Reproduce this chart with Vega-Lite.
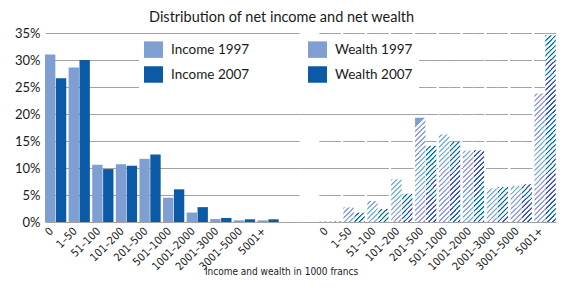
{
  "$schema": "https://vega.github.io/schema/vega-lite/v6.json",
  "padding": {"left": 5, "top": 9, "right": 0, "bottom": 0},
  "bounds": "flush",
  "background": "white",
  "title": {"text": "Distribution of net income and net wealth", "font": "Lato", "fontSize": 14.5, "fontWeight": "normal", "color": "#1a1a1a", "anchor": "start", "frame": "group", "offset": 2, "dx": 104},
  "datasets": {
    "income": [
      {"cat": "0", "year": "1997", "series": "Income 1997", "value": 31.0},
      {"cat": "1–50", "year": "1997", "series": "Income 1997", "value": 28.6},
      {"cat": "51–100", "year": "1997", "series": "Income 1997", "value": 10.6},
      {"cat": "101–200", "year": "1997", "series": "Income 1997", "value": 10.7},
      {"cat": "201–500", "year": "1997", "series": "Income 1997", "value": 11.7},
      {"cat": "501–1000", "year": "1997", "series": "Income 1997", "value": 4.5},
      {"cat": "1001–2000", "year": "1997", "series": "Income 1997", "value": 1.75},
      {"cat": "2001–3000", "year": "1997", "series": "Income 1997", "value": 0.55},
      {"cat": "3001–5000", "year": "1997", "series": "Income 1997", "value": 0.3},
      {"cat": "5001+", "year": "1997", "series": "Income 1997", "value": 0.3},
      {"cat": "0", "year": "2007", "series": "Income 2007", "value": 26.6},
      {"cat": "1–50", "year": "2007", "series": "Income 2007", "value": 30.0},
      {"cat": "51–100", "year": "2007", "series": "Income 2007", "value": 9.8},
      {"cat": "101–200", "year": "2007", "series": "Income 2007", "value": 10.4},
      {"cat": "201–500", "year": "2007", "series": "Income 2007", "value": 12.5},
      {"cat": "501–1000", "year": "2007", "series": "Income 2007", "value": 6.05},
      {"cat": "1001–2000", "year": "2007", "series": "Income 2007", "value": 2.75},
      {"cat": "2001–3000", "year": "2007", "series": "Income 2007", "value": 0.75},
      {"cat": "3001–5000", "year": "2007", "series": "Income 2007", "value": 0.5},
      {"cat": "5001+", "year": "2007", "series": "Income 2007", "value": 0.5}
    ],
    "wealth": [
      {"cat": "0", "year": "1997", "series": "Wealth 1997", "value": 0.1},
      {"cat": "1–50", "year": "1997", "series": "Wealth 1997", "value": 2.7},
      {"cat": "51–100", "year": "1997", "series": "Wealth 1997", "value": 3.9},
      {"cat": "101–200", "year": "1997", "series": "Wealth 1997", "value": 7.9},
      {"cat": "201–500", "year": "1997", "series": "Wealth 1997", "value": 19.3},
      {"cat": "501–1000", "year": "1997", "series": "Wealth 1997", "value": 16.2},
      {"cat": "1001–2000", "year": "1997", "series": "Wealth 1997", "value": 13.2},
      {"cat": "2001–3000", "year": "1997", "series": "Wealth 1997", "value": 6.2},
      {"cat": "3001–5000", "year": "1997", "series": "Wealth 1997", "value": 6.7},
      {"cat": "5001+", "year": "1997", "series": "Wealth 1997", "value": 23.8},
      {"cat": "0", "year": "2007", "series": "Wealth 2007", "value": 0.1},
      {"cat": "1–50", "year": "2007", "series": "Wealth 2007", "value": 1.7},
      {"cat": "51–100", "year": "2007", "series": "Wealth 2007", "value": 2.4},
      {"cat": "101–200", "year": "2007", "series": "Wealth 2007", "value": 5.25},
      {"cat": "201–500", "year": "2007", "series": "Wealth 2007", "value": 14.1},
      {"cat": "501–1000", "year": "2007", "series": "Wealth 2007", "value": 14.9},
      {"cat": "1001–2000", "year": "2007", "series": "Wealth 2007", "value": 13.3},
      {"cat": "2001–3000", "year": "2007", "series": "Wealth 2007", "value": 6.5},
      {"cat": "3001–5000", "year": "2007", "series": "Wealth 2007", "value": 7.0},
      {"cat": "5001+", "year": "2007", "series": "Wealth 2007", "value": 34.6}
    ]
  },
  "spacing": 0,
  "hconcat": [
    {
      "width": 254,
      "height": 189,
      "data": {"name": "income"},
      "mark": {"type": "bar"},
      "encoding": {
        "x": {
          "field": "cat", "type": "nominal",
          "sort": ["0", "1–50", "51–100", "101–200", "201–500", "501–1000", "1001–2000", "2001–3000", "3001–5000", "5001+"],
          "scale": {"paddingInner": 0.1, "paddingOuter": 0.43, "align": 0},
          "axis": {"title": "Income and wealth in 1000 francs", "titleX": 236, "titleY": 49, "titleBaseline": "middle", "titleAlign": "center"}
        },
        "xOffset": {"field": "year", "type": "nominal", "scale": {"paddingInner": 0.05}},
        "y": {
          "field": "value", "type": "quantitative",
          "scale": {"domain": [0, 35]},
          "axis": {"values": [0, 5, 10, 15, 20, 25, 30, 35], "labelExpr": "datum.value + '%'", "title": null, "minExtent": 40, "maxExtent": 40, "labelPadding": 5, "ticks": false, "domain": false, "grid": true, "labelFont": "Lato", "labelFontSize": 13, "labelColor": "#1a1a1a"}
        },
        "color": {
          "field": "series", "type": "nominal",
          "scale": {"domain": ["Income 1997", "Income 2007", "Wealth 1997", "Wealth 2007"], "range": ["#7f9fd2", "#0a5aa5", "#7f9fd2", "#0a5aa5"]},
          "legend": {
            "title": null, "orient": "none", "legendX": 94, "legendY": 2, "columns": 2, "columnPadding": 58, "rowPadding": 8,
            "symbolType": "M-1.15,-1H1.15V1H-1.15Z", "symbolSize": 272, "symbolStrokeWidth": 0, "symbolOpacity": 1,
            "labelFont": "Lato", "labelFontSize": 13.5, "labelColor": "#1a1a1a", "labelOffset": 9, "padding": 6, "fillColor": "white",
            "encode": {"symbols": {"shape": {"value": {"expr": "indexof(datum.label, 'Wealth') === 0 ? 'M-1.15,-1H1.15V1H-1.15Z M-0.9,-1L-1.15,-0.75L-1.15,-0.57L-0.72,-1Z M-0.3,-1L-1.15,-0.15L-1.15,0.03L-0.12,-1Z M0.3,-1L-1.15,0.45L-1.15,0.63L0.48,-1Z M0.9,-1L-1.1,1L-0.92,1L1.08,-1Z M1.15,-0.65L-0.5,1L-0.32,1L1.15,-0.47Z M1.15,-0.05L0.1,1L0.28,1L1.15,0.13Z M1.15,0.55L0.7,1L0.88,1L1.15,0.73Z' : 'M-1.15,-1H1.15V1H-1.15Z'"}}}}
          }
        }
      }
    },
    {
      "width": 257,
      "height": 189,
      "data": {"name": "wealth"},
      "layer": [
        {
          "mark": {"type": "bar"},
          "encoding": {
            "x": {
              "field": "cat", "type": "nominal",
              "sort": ["0", "1–50", "51–100", "101–200", "201–500", "501–1000", "1001–2000", "2001–3000", "3001–5000", "5001+"],
              "scale": {"paddingInner": 0.1, "paddingOuter": 0.43, "align": 1},
              "axis": {"title": null}
            },
            "xOffset": {"field": "year", "type": "nominal", "scale": {"paddingInner": 0.05}},
            "y": {
              "field": "value", "type": "quantitative",
              "scale": {"domain": [0, 35]},
              "axis": {"values": [0, 5, 10, 15, 20, 25, 30, 35], "labels": false, "title": null, "minExtent": 0, "maxExtent": 0, "ticks": false, "domain": false, "grid": true}
            },
            "color": {"field": "series", "type": "nominal"}
          }
        },
        {
          "mark": {"type": "text", "clip": true, "font": "DejaVu Sans Mono", "fontSize": 12, "lineHeight": 3.5, "angle": -45, "align": "center", "baseline": "top", "color": "white", "opacity": 0.8,
            "text": [
"────────────────────────────────────────────────────────────────────────────────────","────────────────────────────────────────────────────────────────────────────────────","────────────────────────────────────────────────────────────────────────────────────","────────────────────────────────────────────────────────────────────────────────────","────────────────────────────────────────────────────────────────────────────────────",
"────────────────────────────────────────────────────────────────────────────────────","────────────────────────────────────────────────────────────────────────────────────","────────────────────────────────────────────────────────────────────────────────────","────────────────────────────────────────────────────────────────────────────────────","────────────────────────────────────────────────────────────────────────────────────",
"────────────────────────────────────────────────────────────────────────────────────","────────────────────────────────────────────────────────────────────────────────────","────────────────────────────────────────────────────────────────────────────────────","────────────────────────────────────────────────────────────────────────────────────","────────────────────────────────────────────────────────────────────────────────────",
"────────────────────────────────────────────────────────────────────────────────────","────────────────────────────────────────────────────────────────────────────────────","────────────────────────────────────────────────────────────────────────────────────","────────────────────────────────────────────────────────────────────────────────────","────────────────────────────────────────────────────────────────────────────────────",
"────────────────────────────────────────────────────────────────────────────────────","────────────────────────────────────────────────────────────────────────────────────","────────────────────────────────────────────────────────────────────────────────────","────────────────────────────────────────────────────────────────────────────────────","────────────────────────────────────────────────────────────────────────────────────",
"────────────────────────────────────────────────────────────────────────────────────","────────────────────────────────────────────────────────────────────────────────────","────────────────────────────────────────────────────────────────────────────────────","────────────────────────────────────────────────────────────────────────────────────","────────────────────────────────────────────────────────────────────────────────────",
"────────────────────────────────────────────────────────────────────────────────────","────────────────────────────────────────────────────────────────────────────────────","────────────────────────────────────────────────────────────────────────────────────","────────────────────────────────────────────────────────────────────────────────────","────────────────────────────────────────────────────────────────────────────────────",
"────────────────────────────────────────────────────────────────────────────────────","────────────────────────────────────────────────────────────────────────────────────","────────────────────────────────────────────────────────────────────────────────────","────────────────────────────────────────────────────────────────────────────────────","────────────────────────────────────────────────────────────────────────────────────",
"────────────────────────────────────────────────────────────────────────────────────","────────────────────────────────────────────────────────────────────────────────────","────────────────────────────────────────────────────────────────────────────────────","────────────────────────────────────────────────────────────────────────────────────","────────────────────────────────────────────────────────────────────────────────────",
"────────────────────────────────────────────────────────────────────────────────────","────────────────────────────────────────────────────────────────────────────────────","────────────────────────────────────────────────────────────────────────────────────","────────────────────────────────────────────────────────────────────────────────────","────────────────────────────────────────────────────────────────────────────────────",
"────────────────────────────────────────────────────────────────────────────────────","────────────────────────────────────────────────────────────────────────────────────","────────────────────────────────────────────────────────────────────────────────────","────────────────────────────────────────────────────────────────────────────────────","────────────────────────────────────────────────────────────────────────────────────"
            ]
          },
          "encoding": {
            "x": {"datum": "0", "type": "nominal"},
            "y": {"datum": 2.8, "type": "quantitative"}
          }
        },
        {"transform": [{"filter": "datum.value < 5"}], "mark": {"type": "bar", "filled": false, "stroke": "#a3a3a3", "strokeWidth": 1, "yOffset": 0.5, "y2Offset": 0.5}, "encoding": {"x": {"field": "cat", "type": "nominal", "sort": ["0", "1–50", "51–100", "101–200", "201–500", "501–1000", "1001–2000", "2001–3000", "3001–5000", "5001+"]}, "xOffset": {"field": "year", "type": "nominal"}, "y": {"datum": 5, "type": "quantitative", "axis": {"title": null}}, "y2": {"datum": 5}}},
        {"transform": [{"filter": "datum.value < 10"}], "mark": {"type": "bar", "filled": false, "stroke": "#a3a3a3", "strokeWidth": 1, "yOffset": 0.5, "y2Offset": 0.5}, "encoding": {"x": {"field": "cat", "type": "nominal", "sort": ["0", "1–50", "51–100", "101–200", "201–500", "501–1000", "1001–2000", "2001–3000", "3001–5000", "5001+"]}, "xOffset": {"field": "year", "type": "nominal"}, "y": {"datum": 10, "type": "quantitative", "axis": {"title": null}}, "y2": {"datum": 10}}},
        {"transform": [{"filter": "datum.value < 15"}], "mark": {"type": "bar", "filled": false, "stroke": "#a3a3a3", "strokeWidth": 1, "yOffset": 0.5, "y2Offset": 0.5}, "encoding": {"x": {"field": "cat", "type": "nominal", "sort": ["0", "1–50", "51–100", "101–200", "201–500", "501–1000", "1001–2000", "2001–3000", "3001–5000", "5001+"]}, "xOffset": {"field": "year", "type": "nominal"}, "y": {"datum": 15, "type": "quantitative", "axis": {"title": null}}, "y2": {"datum": 15}}},
        {"transform": [{"filter": "datum.value < 20"}], "mark": {"type": "bar", "filled": false, "stroke": "#a3a3a3", "strokeWidth": 1, "yOffset": 0.5, "y2Offset": 0.5}, "encoding": {"x": {"field": "cat", "type": "nominal", "sort": ["0", "1–50", "51–100", "101–200", "201–500", "501–1000", "1001–2000", "2001–3000", "3001–5000", "5001+"]}, "xOffset": {"field": "year", "type": "nominal"}, "y": {"datum": 20, "type": "quantitative", "axis": {"title": null}}, "y2": {"datum": 20}}},
        {"transform": [{"filter": "datum.value < 25"}], "mark": {"type": "bar", "filled": false, "stroke": "#a3a3a3", "strokeWidth": 1, "yOffset": 0.5, "y2Offset": 0.5}, "encoding": {"x": {"field": "cat", "type": "nominal", "sort": ["0", "1–50", "51–100", "101–200", "201–500", "501–1000", "1001–2000", "2001–3000", "3001–5000", "5001+"]}, "xOffset": {"field": "year", "type": "nominal"}, "y": {"datum": 25, "type": "quantitative", "axis": {"title": null}}, "y2": {"datum": 25}}},
        {"transform": [{"filter": "datum.value < 30"}], "mark": {"type": "bar", "filled": false, "stroke": "#a3a3a3", "strokeWidth": 1, "yOffset": 0.5, "y2Offset": 0.5}, "encoding": {"x": {"field": "cat", "type": "nominal", "sort": ["0", "1–50", "51–100", "101–200", "201–500", "501–1000", "1001–2000", "2001–3000", "3001–5000", "5001+"]}, "xOffset": {"field": "year", "type": "nominal"}, "y": {"datum": 30, "type": "quantitative", "axis": {"title": null}}, "y2": {"datum": 30}}},
        {"transform": [{"filter": "datum.value < 35"}], "mark": {"type": "bar", "filled": false, "stroke": "#a3a3a3", "strokeWidth": 1, "yOffset": 0.5, "y2Offset": 0.5}, "encoding": {"x": {"field": "cat", "type": "nominal", "sort": ["0", "1–50", "51–100", "101–200", "201–500", "501–1000", "1001–2000", "2001–3000", "3001–5000", "5001+"]}, "xOffset": {"field": "year", "type": "nominal"}, "y": {"datum": 35, "type": "quantitative", "axis": {"title": null}}, "y2": {"datum": 35}}}
      ]
    }
  ],
  "resolve": {"scale": {"color": "shared", "y": "shared"}},
  "config": {
    "view": {"stroke": null},
    "axis": {"gridColor": "#a3a3a3", "gridWidth": 1, "gridOpacity": 1},
    "axisX": {"labelAngle": -45, "labelFont": "'Liberation Sans Narrow', 'DejaVu Sans Condensed', 'Roboto Condensed', sans-serif", "labelFontSize": 11, "labelColor": "#1a1a1a", "labelOffset": -8, "ticks": false, "domain": false, "grid": false, "labelPadding": 3, "titleFont": "'Liberation Sans Narrow', 'DejaVu Sans Condensed', 'Roboto Condensed', sans-serif", "titleFontSize": 10, "titleFontWeight": "normal", "titleColor": "#1a1a1a"},
    "bar": {"strokeWidth": 0}
  }
}
